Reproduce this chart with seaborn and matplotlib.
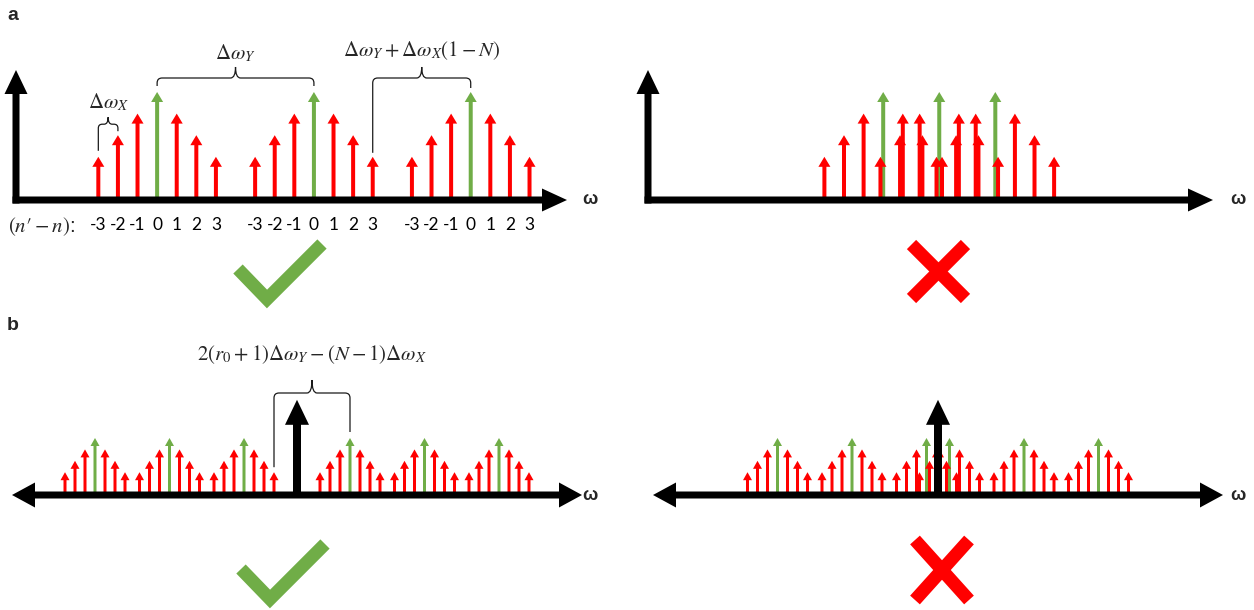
import matplotlib
matplotlib.use("Agg")
import matplotlib.pyplot as plt
import seaborn as sns
from matplotlib.path import Path
from matplotlib.patches import PathPatch

sns.set_theme(style="white")
plt.rcParams["font.family"] = ["Liberation Sans", "DejaVu Sans"]
plt.rcParams["mathtext.fontset"] = "stix"

# ---- spectrum data (frequencies in units of the sideband spacing Δω_X) ----
orders = [-3, -2, -1, 0, 1, 2, 3]            # n' - n
amps = [0.4, 0.6, 0.8, 1.0, 0.8, 0.6, 0.4]   # relative sideband amplitudes
n_groups_a = 3

# panel a: well separated vs. overlapping combs
a_start_ok, a_dwY_ok = 7.2, 8.0
a_start_bad, a_dwY_bad = 12.0, 2.86

# panel b: symmetric combs around a carrier at ω = 0
n_groups_b = 3
b_offset_ok, b_dwY_ok = 5.3, 7.45
b_offset_bad, b_dwY_bad = 1.15, 7.45
carrier_amp = 1.67

RED, GREEN, BLACK = "#FF0000", "#70AD47", "#000000"

W, H = 1254, 610
fig = plt.figure(figsize=(W / 100, H / 100), dpi=100)


def px_axes(x0, y0, x1, y1, xlim, ylim):
    ax = fig.add_axes([x0 / W, 1 - y1 / H, (x1 - x0) / W, (y1 - y0) / H])
    ax.set_facecolor("none")
    ax.set_xlim(*xlim)
    ax.set_ylim(*ylim)
    ax.set_xticks([])
    ax.set_yticks([])
    ax.grid(False)
    sns.despine(ax=ax, left=True, bottom=True)
    return ax


def px(ax, dx=0.0, dy=0.0):
    """Convert a pixel offset into data units of ax."""
    inv = ax.transData.inverted()
    x0, y0 = inv.transform((0, 0))
    x1, y1 = inv.transform((dx, dy))
    return x1 - x0, y1 - y0


def stem(ax, x, h, color, shaft, head_w, head_l, z=3):
    sw, hl = px(ax, shaft, head_l)
    hw, _ = px(ax, head_w, 0)
    ax.arrow(x, 0, 0, h, width=sw, head_width=hw, head_length=hl,
             length_includes_head=True, color=color, lw=0, zorder=z,
             clip_on=False)


def h_axis(ax, x_from, x_to, thick=7, head_w=23, head_l=25):
    _, t = px(ax, 0, thick)
    _, hw = px(ax, 0, head_w)
    hl, _ = px(ax, head_l, 0)
    ax.arrow(x_from, 0, x_to - x_from, 0, width=t, head_width=hw, head_length=hl,
             length_includes_head=True, color=BLACK, lw=0, zorder=5,
             clip_on=False)


def v_axis(ax, y_to, thick=7, head_w=23, head_l=24):
    t, _ = px(ax, thick, 0)
    hw, _ = px(ax, head_w, 0)
    _, hl = px(ax, 0, head_l)
    _, y0 = px(ax, 0, -thick / 2)
    ax.arrow(0, y0, 0, y_to - y0, width=t, head_width=hw, head_length=hl,
             length_includes_head=True, color=BLACK, lw=0, zorder=5,
             clip_on=False)


def brace(ax, x0, x1, y_bar, y_left, y_right, label, label_gap,
          r=5, cusp=11, fs=15):
    rx, ry = px(ax, r, r)
    _, cy = px(ax, 0, cusp)
    _, lg = px(ax, 0, label_gap)
    xc = (x0 + x1) / 2
    verts = [(x0, y_left), (x0, y_bar - ry), (x0, y_bar), (x0 + rx, y_bar),
             (xc - rx, y_bar), (xc, y_bar), (xc, y_bar + cy),
             (xc, y_bar), (xc + rx, y_bar),
             (x1 - rx, y_bar), (x1, y_bar), (x1, y_bar - ry), (x1, y_right)]
    codes = [Path.MOVETO, Path.LINETO, Path.CURVE3, Path.CURVE3,
             Path.LINETO, Path.CURVE3, Path.CURVE3, Path.CURVE3, Path.CURVE3,
             Path.LINETO, Path.CURVE3, Path.CURVE3, Path.LINETO]
    ax.add_patch(PathPatch(Path(verts, codes), fill=False, lw=0.9,
                           edgecolor="#1a1a1a", clip_on=False, zorder=6))
    ax.text(xc, y_bar + lg, label, ha="center", va="center", fontsize=fs,
            clip_on=False)


def comb(ax, centres, shaft, head_w, head_l):
    positions, labels = [], []
    # green carriers of each comb first, red sidebands on top
    for c in centres:
        stem(ax, c, amps[orders.index(0)], GREEN, shaft, head_w, head_l, z=3)
    for c in centres:
        for n, a in zip(orders, amps):
            positions.append(c + n)
            labels.append(str(n))
            if n != 0:
                stem(ax, c + n, a, RED, shaft, head_w, head_l, z=4)
    return positions, labels


# ---------------- panel a ----------------
A_SX, A_SY = 19.6, 108.0
for (x0, x1), start, dwY, good in [((16, 567), a_start_ok, a_dwY_ok, True),
                                   ((648, 1213), a_start_bad, a_dwY_bad, False)]:
    ax = px_axes(x0, 70, x1, 200, (0, (x1 - x0) / A_SX), (0, 130 / A_SY))
    centres = [start + k * dwY for k in range(n_groups_a)]
    pos, labs = comb(ax, centres, shaft=4, head_w=12, head_l=10)
    dx, _ = px(ax, -3.5, 0)
    h_axis(ax, dx, ax.get_xlim()[1])
    v_axis(ax, ax.get_ylim()[1])
    if good:
        ax.set_xticks(pos)
        ax.set_xticklabels(labs, fontfamily="Lato", fontsize=12.5)
        ax.tick_params(axis="x", length=0, pad=12, colors=BLACK)
        _, g4 = px(ax, 0, 4)
        _, g6 = px(ax, 0, 6)
        _, g11 = px(ax, 0, 11)
        _, g14 = px(ax, 0, 14)
        top = amps[orders.index(0)]
        brace(ax, centres[0] - 3, centres[0] - 2, amps[1] + g11,
              amps[0] + g6, amps[1] + g4, r"$\Delta\omega_X$", 22, r=4, cusp=7)
        brace(ax, centres[0], centres[1], top + g14, top + g6, top + g6,
              r"$\Delta\omega_Y$", 25)
        brace(ax, centres[1] + 3, centres[2], top + g14, amps[6] + g4, top + g4,
              r"$\Delta\omega_Y + \Delta\omega_X(1 - N)$", 27)

# ---------------- panel b ----------------
B_SX, B_SY = 10.0, 57.0
for (x0, x1), off, dwY, good in [((12, 582), b_offset_ok, b_dwY_ok, True),
                                 ((653, 1223), b_offset_bad, b_dwY_bad, False)]:
    half = (x1 - x0) / 2 / B_SX
    ax = px_axes(x0, 395, x1, 495, (-half, half), (0, 100 / B_SY))
    right = [off + k * dwY for k in range(n_groups_b)]
    left = [-c for c in right][::-1]
    comb(ax, left + right, shaft=3, head_w=9, head_l=8)
    stem(ax, 0, carrier_amp, BLACK, 8, 24, 25, z=7)
    h_axis(ax, 0, half, head_w=25, head_l=23)
    h_axis(ax, 0, -half, head_w=25, head_l=23)
    if good:
        _, g5 = px(ax, 0, 5)
        _, g6 = px(ax, 0, 6)
        top = amps[orders.index(0)]
        y_bar = top + px(ax, 0, 45)[1]
        brace(ax, left[-1] + 3, right[0], y_bar, amps[6] + g5, top + g6,
              r"$2(r_0 + 1)\Delta\omega_Y - (N - 1)\Delta\omega_X$", 38, cusp=13)

# ---------------- labels and verdict marks ----------------
ov = fig.add_axes([0, 0, 1, 1], zorder=-1)
ov.set_xlim(0, W)
ov.set_ylim(H, 0)
ov.axis("off")

ov.text(7, 15, "a", fontsize=14, fontweight="bold", ha="left", va="center")
ov.text(7, 325, "b", fontsize=14, fontweight="bold", ha="left", va="center")
for x, y in [(590, 200), (1238, 200), (590, 495), (1238, 495)]:
    ov.text(x, y, "ω", fontsize=13, fontweight="bold", ha="center", va="center")
ov.text(8, 227, r"$(n{\prime} - n)$:", fontsize=15, ha="left", va="center")


def check(cx, cy):
    xs = [cx - 29, cx, cx + 55]
    ys = [cy - 30, cy, cy - 55]
    ov.plot(xs, ys, color=GREEN, lw=9.4, solid_joinstyle="miter",
            solid_capstyle="butt")


def cross(cx, cy, hx=27, hy=29):
    for sgn in (1, -1):
        ov.plot([cx - hx, cx + hx], [cy - sgn * hy, cy + sgn * hy], color=RED,
                lw=9.4, solid_capstyle="butt")


check(267, 299)
check(270, 599)
cross(938.5, 271.5, 27, 27)
cross(942, 570, 27, 30)

fig.savefig("out.png", dpi=100)
